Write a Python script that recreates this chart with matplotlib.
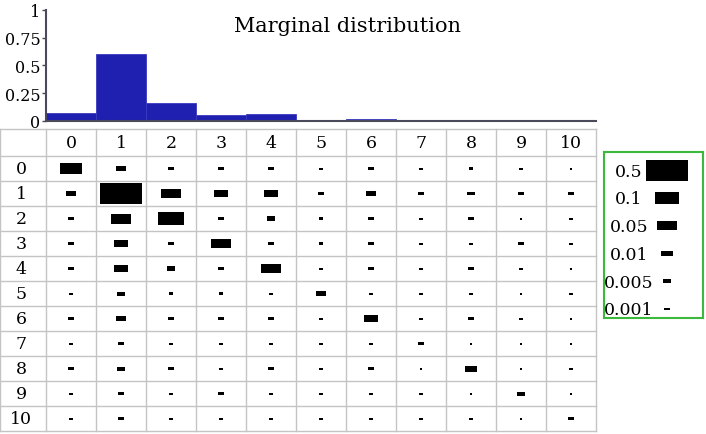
import numpy as np
import matplotlib
matplotlib.use('Agg')
import matplotlib.pyplot as plt
from matplotlib.patches import Rectangle

plt.rcParams['font.family'] = 'DejaVu Serif'

labels = [str(i) for i in range(11)]

# marginal distribution (bar heights)
marginal = [0.07, 0.60, 0.163, 0.051, 0.06, 0.003, 0.015, 0.002, 0.005, 0.001, 0.001]

# joint probabilities, rows x columns
joint = np.array([
    [0.078, 0.006, 0.0018, 0.0012, 0.0015, 0.00023, 0.0012, 0.00023, 0.0008, 0.00023, 0.00011],
    [0.006, 0.5, 0.054, 0.016, 0.018, 0.0024, 0.006, 0.0012, 0.0029, 0.001, 0.001],
    [0.0018, 0.054, 0.13, 0.0021, 0.0048, 0.0008, 0.0015, 0.00023, 0.0012, 0.00016, 0.0003],
    [0.0015, 0.016, 0.0021, 0.052, 0.0012, 0.0008, 0.0018, 0.0004, 0.0004, 0.001, 0.0003],
    [0.0015, 0.018, 0.0048, 0.0012, 0.052, 0.0005, 0.001, 0.00023, 0.0012, 0.00023, 0.00011],
    [0.0003, 0.0029, 0.0008, 0.0008, 0.0007, 0.0075, 0.0004, 0.0004, 0.0004, 0.00011, 0.0003],
    [0.0015, 0.0075, 0.0018, 0.0012, 0.0015, 0.0005, 0.018, 0.00023, 0.0012, 0.00023, 0.00011],
    [0.0003, 0.0018, 0.0008, 0.0005, 0.0005, 0.0007, 0.0004, 0.0024, 0.00011, 0.00016, 0.00016],
    [0.0015, 0.0048, 0.0015, 0.0005, 0.0018, 0.0007, 0.0015, 0.00011, 0.011, 0.00016, 0.0003],
    [0.0003, 0.0018, 0.0004, 0.0012, 0.0005, 0.00023, 0.0004, 0.0004, 0.00011, 0.0032, 0.00011],
    [0.00023, 0.0012, 0.0007, 0.0005, 0.0003, 0.0005, 0.0005, 0.0004, 0.0004, 0.00011, 0.0021],
])

legend_vals = [0.5, 0.1, 0.05, 0.01, 0.005, 0.001]
legend_txt = ['0.5', '0.1', '0.05', '0.01', '0.005', '0.001']

W, H = 706, 435
fig = plt.figure(figsize=(W / 100, H / 100), dpi=100)


def box(x0, y0, x1, y1):
    # pixel box -> figure fraction
    return [x0 / W, 1 - y1 / H, (x1 - x0) / W, (y1 - y0) / H]


def mark_size(p):
    # rectangle width/height in pixels
    w = 52 * p ** (1 / 3)
    return w, max(w / 2, 2)


# --- marginal histogram
ax = fig.add_axes(box(46, 11, 596, 121.7))
ax.bar(range(11), marginal, width=1.0, color='#2020b0', edgecolor='#3a3ac0', lw=0.6)
ax.set_xlim(-0.5, 10.5)
ax.set_ylim(0, 1)
ax.set_yticks([0, 0.25, 0.5, 0.75, 1])
ax.set_yticklabels(['0', '0.25', '0.5', '0.75', '1'])
ax.set_xticks([])
for s in ['top', 'right']:
    ax.spines[s].set_visible(False)
for s in ['left', 'bottom']:
    ax.spines[s].set_color('#4a4a5a')
    ax.spines[s].set_linewidth(1.5)
ax.tick_params(axis='y', length=3, width=1, color='#4a4a5a', pad=1, labelsize=11.5)
ax.patch.set_alpha(0)
fig.text(347 / W, 1 - 27 / H, 'Marginal distribution', ha='center', va='center', fontsize=15)

# --- joint table
at = fig.add_axes(box(0, 130, 596, 432.3))
head = -0.5 - 27 / 25
at.set_xlim(-1.42, 10.5)
at.set_ylim(10.5, head)
at.axis('off')
grid = dict(color='#c4c4c4', lw=1.0, clip_on=False)
for y in [head] + list(np.arange(-0.5, 11, 1)):
    at.plot([-1.42, 10.5], [y, y], **grid)
for x in [-1.42] + list(np.arange(-0.5, 11, 1)):
    at.plot([x, x], [head, 10.5], **grid)

for j, lab in enumerate(labels):
    at.text(j, (head - 0.5) / 2, lab, ha='center', va='center', fontsize=12.5)
    at.text(-1.0, j, lab, ha='center', va='center', fontsize=12.5)

for r in range(11):
    for c in range(11):
        w, h = mark_size(joint[r, c])
        w, h = w / 50, h / 25
        at.add_patch(Rectangle((c - w / 2, r - h / 2), w, h, color='black', lw=0))

# --- size legend
al = fig.add_axes(box(604, 153, 703, 319))
al.set_xlim(0, 99)
al.set_ylim(166, 0)
al.set_xticks([])
al.set_yticks([])
for s in al.spines.values():
    s.set_color('#3cb93c')
    s.set_linewidth(1.5)
for i, (v, t) in enumerate(zip(legend_vals, legend_txt)):
    y = 18.3 + 27.7 * i
    w, h = mark_size(v)
    al.add_patch(Rectangle((63 - w / 2, y - h / 2), w, h, color='black', lw=0))
    al.text(25, y + 1, t, ha='center', va='center', fontsize=12.5, clip_on=False)

fig.savefig('out.png', dpi=100)
